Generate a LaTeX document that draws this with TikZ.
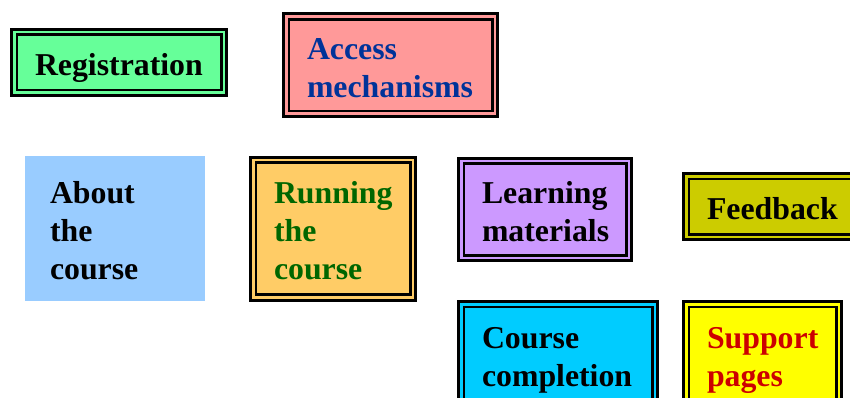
\documentclass[tikz,border=0pt]{standalone}
\usepackage{fontspec}
\setmainfont{Liberation Serif}

\definecolor{regfill}{HTML}{66FF99}
\definecolor{accfill}{HTML}{FF9999}
\definecolor{acctext}{HTML}{003399}
\definecolor{aboutfill}{HTML}{99CCFF}
\definecolor{runfill}{HTML}{FFCC66}
\definecolor{runtext}{HTML}{006600}
\definecolor{learnfill}{HTML}{CC99FF}
\definecolor{feedfill}{HTML}{CCCC00}
\definecolor{compfill}{HTML}{00CCFF}
\definecolor{suppfill}{HTML}{FFFF00}
\definecolor{supptext}{HTML}{CC0000}

\newcommand{\cardfont}{\bfseries\fontsize{31.8}{38}\selectfont}

\begin{document}
\begin{tikzpicture}[x=1pt,y=-1pt]

	\tikzstyle{card}        = [rectangle, anchor=north west, inner sep=0pt, align=left, font=\cardfont, text height=26pt, text depth=0pt]
	\tikzstyle{framed card} = [card, draw=black, line width=2.8pt, double distance=2.7pt, outer sep=4.15pt]

	\useasboundingbox (0,0) rectangle (850,398);
	\clip (0,0) rectangle (850,398);

	% top row
	\node [framed card, fill=regfill, double=regfill, minimum width=209.7pt, minimum height=60.7pt, text width=168pt] (reg) at (10,28) {Registration};

	\node [framed card, fill=accfill, double=accfill, text=acctext, minimum width=208.7pt, minimum height=97.2pt, text width=167pt, text depth=38pt] (acc) at (282,12.5) {Access\\mechanisms};

	% middle row
	\node [card, fill=aboutfill, outer sep=0pt, minimum width=180pt, minimum height=145pt, text width=130pt, text depth=76pt] (about) at (25,156) {About\\the\\course};

	\node [framed card, fill=runfill, double=runfill, text=runtext, minimum width=159.7pt, minimum height=137.2pt, text width=118pt, text depth=76pt] (run) at (249,156) {Running\\the\\course};

	\node [framed card, fill=learnfill, double=learnfill, minimum width=167.7pt, minimum height=96.7pt, text width=126pt, text depth=38pt] (learn) at (457,157) {Learning\\materials};

	\node [framed card, fill=feedfill, double=feedfill, minimum width=175.7pt, minimum height=60.7pt, text width=134pt] (feed) at (682,172) {Feedback};

	% bottom row
	\node [framed card, fill=compfill, double=compfill, minimum width=193.7pt, minimum height=100.7pt, text width=152pt, text depth=38pt] (comp) at (457,300) {Course\\completion};

	\node [framed card, fill=suppfill, double=suppfill, text=supptext, minimum width=152.7pt, minimum height=100.7pt, text width=111pt, text depth=38pt] (supp) at (682,300) {Support\\pages};

\end{tikzpicture}
\end{document}
